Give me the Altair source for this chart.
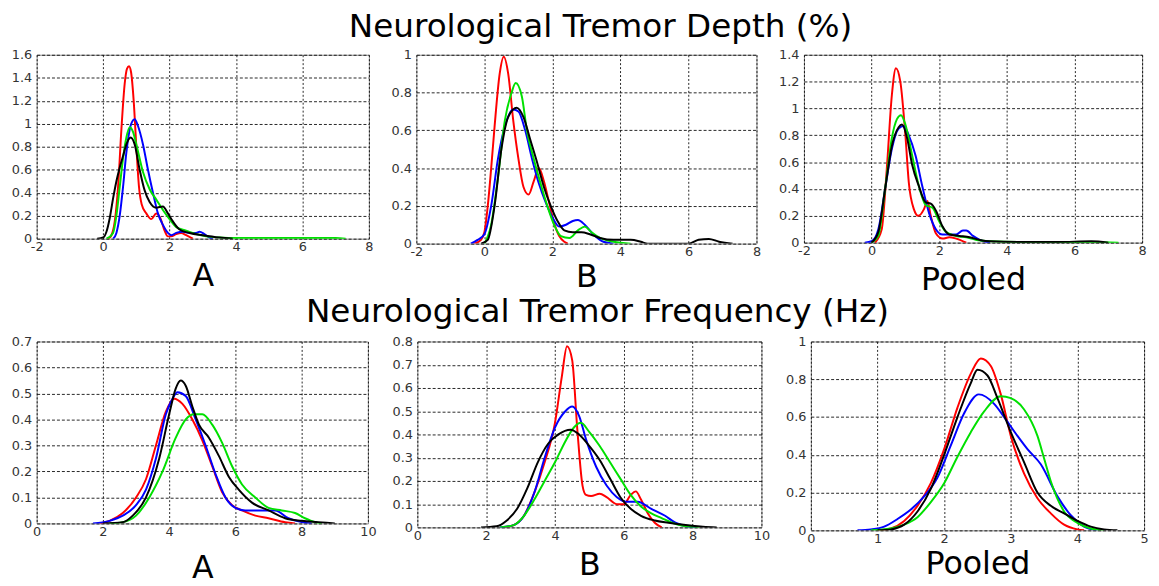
import altair as alt
import pandas as pd

FONT = "DejaVu Sans"

# ---------------- Tremor depth, group A ----------------
dA_red_x = [0.15, 0.25, 0.35, 0.45, 0.55, 0.65, 0.72, 0.78, 0.84, 0.92, 1.0, 1.08, 1.16, 1.3, 1.45, 1.6, 1.72, 1.85, 1.95, 2.05, 2.2, 2.35, 2.5, 2.7]
dA_red_y = [0.0, 0.03, 0.15, 0.45, 0.95, 1.35, 1.48, 1.5, 1.45, 1.2, 0.8, 0.45, 0.3, 0.22, 0.17, 0.22, 0.18, 0.07, 0.02, 0.02, 0.04, 0.05, 0.03, 0.0]
dA_blue_x = [0.3, 0.4, 0.5, 0.6, 0.7, 0.8, 0.9, 0.95, 1.05, 1.2, 1.35, 1.5, 1.65, 1.8, 1.95, 2.05, 2.2, 2.4, 2.6, 2.8, 2.9, 3.05, 3.2, 3.3]
dA_blue_y = [0.0, 0.05, 0.2, 0.45, 0.75, 0.95, 1.03, 1.04, 0.98, 0.82, 0.6, 0.4, 0.22, 0.12, 0.05, 0.03, 0.05, 0.06, 0.05, 0.05, 0.06, 0.04, 0.01, 0.0]
dA_green_x = [0.1, 0.3, 0.4, 0.5, 0.6, 0.7, 0.8, 0.9, 1.0, 1.2, 1.4, 1.6, 1.8, 2.0, 2.2, 2.5, 2.8, 3.1, 3.5, 4.0, 5.0, 6.0, 7.0, 7.3]
dA_green_y = [0.0, 0.05, 0.2, 0.45, 0.7, 0.88, 0.97, 0.93, 0.82, 0.58, 0.43, 0.34, 0.25, 0.17, 0.1, 0.07, 0.04, 0.02, 0.01, 0.005, 0.005, 0.005, 0.005, 0.0]
dA_black_x = [-0.18, 0.0, 0.1, 0.2, 0.3, 0.4, 0.5, 0.6, 0.7, 0.83, 0.95, 1.1, 1.25, 1.4, 1.6, 1.8, 1.95, 2.1, 2.3, 2.6, 3.0, 3.5, 3.9]
dA_black_y = [0.0, 0.01, 0.06, 0.18, 0.35, 0.5, 0.62, 0.72, 0.82, 0.88, 0.82, 0.6, 0.42, 0.32, 0.27, 0.28, 0.22, 0.15, 0.08, 0.05, 0.03, 0.01, 0.0]

# ---------------- Tremor depth, group B ----------------
dB_red_x = [-0.3, -0.1, 0.0, 0.1, 0.2, 0.3, 0.45, 0.57, 0.7, 0.85, 1.0, 1.15, 1.3, 1.45, 1.6, 1.75, 1.9, 2.05, 2.2, 2.35, 2.45]
dB_red_y = [0.0, 0.02, 0.06, 0.2, 0.4, 0.62, 0.9, 0.99, 0.9, 0.65, 0.45, 0.3, 0.26, 0.33, 0.4, 0.33, 0.22, 0.11, 0.04, 0.01, 0.0]
dB_blue_x = [-0.4, -0.2, 0.0, 0.2, 0.4, 0.6, 0.85, 1.0, 1.2, 1.4, 1.6, 1.8, 2.0, 2.2, 2.4, 2.6, 2.75, 2.95, 3.2, 3.5, 3.8]
dB_blue_y = [0.0, 0.02, 0.05, 0.2, 0.45, 0.62, 0.71, 0.7, 0.6, 0.45, 0.32, 0.22, 0.14, 0.09, 0.1, 0.12, 0.125, 0.1, 0.05, 0.01, 0.0]
dB_green_x = [0.0, 0.2, 0.4, 0.6, 0.8, 0.92, 1.1, 1.25, 1.45, 1.65, 1.85, 2.05, 2.25, 2.5, 2.75, 2.95, 3.15, 3.4, 3.8, 4.3]
dB_green_y = [0.0, 0.1, 0.35, 0.65, 0.8, 0.85, 0.78, 0.6, 0.45, 0.32, 0.2, 0.1, 0.04, 0.03, 0.07, 0.09, 0.06, 0.03, 0.01, 0.0]
dB_black_x = [-0.1, 0.1, 0.3, 0.5, 0.7, 0.95, 1.15, 1.35, 1.55, 1.75, 1.95, 2.15, 2.35, 2.6, 2.85, 3.1, 3.4, 3.8, 4.3, 4.6, 4.8, 5.5, 6.0, 6.3, 6.6, 6.9, 7.3]
dB_black_y = [0.0, 0.02, 0.2, 0.5, 0.67, 0.72, 0.67, 0.55, 0.43, 0.3, 0.2, 0.12, 0.07, 0.06, 0.06, 0.05, 0.03, 0.02, 0.02, 0.01, 0.0, 0.0, 0.0, 0.02, 0.025, 0.01, 0.0]

# ---------------- Tremor depth, pooled ----------------
dP_red_x = [0.1, 0.3, 0.45, 0.6, 0.72, 0.85, 1.0, 1.1, 1.25, 1.38, 1.55, 1.65, 1.75, 1.9, 2.1, 2.3, 2.5, 2.8]
dP_red_y = [0.0, 0.1, 0.55, 1.1, 1.3, 1.2, 0.8, 0.45, 0.25, 0.2, 0.25, 0.31, 0.2, 0.07, 0.03, 0.04, 0.03, 0.0]
dP_blue_x = [-0.2, 0.0, 0.2, 0.4, 0.6, 0.8, 0.95, 1.1, 1.3, 1.5, 1.7, 1.9, 2.1, 2.3, 2.5, 2.7, 2.8, 3.0, 3.2, 3.5]
dP_blue_y = [0.0, 0.01, 0.1, 0.4, 0.7, 0.85, 0.87, 0.8, 0.65, 0.42, 0.22, 0.1, 0.06, 0.06, 0.06, 0.09, 0.09, 0.05, 0.02, 0.0]
dP_green_x = [0.0, 0.2, 0.4, 0.6, 0.75, 0.87, 1.0, 1.2, 1.4, 1.6, 1.8, 2.0, 2.2, 2.5, 2.8, 3.1, 3.5, 4.5, 5.5, 6.5, 7.3]
dP_green_y = [0.0, 0.05, 0.4, 0.78, 0.92, 0.95, 0.88, 0.65, 0.42, 0.28, 0.26, 0.16, 0.08, 0.05, 0.04, 0.02, 0.01, 0.005, 0.005, 0.005, 0.0]
dP_black_x = [0.0, 0.2, 0.4, 0.6, 0.8, 0.9, 1.05, 1.2, 1.4, 1.6, 1.75, 1.9, 2.1, 2.3, 2.6, 2.9, 3.2, 3.5, 4.5, 5.5, 6.5, 7.0]
dP_black_y = [0.0, 0.08, 0.4, 0.72, 0.86, 0.88, 0.78, 0.58, 0.42, 0.3, 0.29, 0.24, 0.12, 0.06, 0.05, 0.04, 0.02, 0.01, 0.005, 0.005, 0.01, 0.0]

# ---------------- Tremor frequency, group A ----------------
fA_red_x = [1.9, 2.2, 2.6, 3.0, 3.3, 3.6, 3.9, 4.15, 4.4, 4.7, 5.0, 5.3, 5.6, 5.9, 6.2, 6.6, 7.0, 7.5, 7.8]
fA_red_y = [0.0, 0.01, 0.04, 0.1, 0.17, 0.3, 0.43, 0.48, 0.46, 0.4, 0.32, 0.22, 0.12, 0.07, 0.05, 0.03, 0.02, 0.005, 0.0]
fA_blue_x = [1.7, 2.2, 2.6, 3.0, 3.3, 3.6, 3.9, 4.1, 4.25, 4.5, 4.8, 5.1, 5.4, 5.7, 6.0, 6.3, 6.8, 7.2, 7.6, 8.0, 8.3]
fA_blue_y = [0.0, 0.01, 0.03, 0.07, 0.13, 0.25, 0.42, 0.48, 0.505, 0.49, 0.4, 0.3, 0.19, 0.1, 0.06, 0.05, 0.05, 0.05, 0.02, 0.005, 0.0]
fA_green_x = [2.2, 2.6, 3.0, 3.4, 3.8, 4.2, 4.5, 4.75, 5.0, 5.3, 5.6, 5.9, 6.2, 6.6, 7.0, 7.4, 7.8, 8.1, 8.4, 8.6]
fA_green_y = [0.0, 0.005, 0.03, 0.1, 0.2, 0.33, 0.4, 0.42, 0.42, 0.38, 0.31, 0.22, 0.15, 0.1, 0.06, 0.05, 0.04, 0.02, 0.005, 0.0]
fA_black_x = [2.0, 2.6, 2.9, 3.3, 3.7, 4.0, 4.2, 4.35, 4.5, 4.7, 4.9, 5.2, 5.5, 5.8, 6.1, 6.5, 7.0, 7.5, 8.0, 8.5, 9.0]
fA_black_y = [0.0, 0.005, 0.03, 0.1, 0.25, 0.42, 0.52, 0.55, 0.53, 0.45, 0.38, 0.33, 0.26, 0.18, 0.13, 0.08, 0.05, 0.02, 0.01, 0.005, 0.0]

# ---------------- Tremor frequency, group B ----------------
fB_red_x = [2.5, 2.8, 3.1, 3.4, 3.7, 4.0, 4.2, 4.35, 4.5, 4.65, 4.8, 4.9, 5.05, 5.3, 5.5, 5.8, 6.0, 6.2, 6.35, 6.5, 6.7, 6.9, 7.1]
fB_red_y = [0.0, 0.01, 0.05, 0.15, 0.28, 0.45, 0.65, 0.78, 0.72, 0.42, 0.18, 0.14, 0.135, 0.145, 0.13, 0.1, 0.1, 0.14, 0.155, 0.12, 0.06, 0.02, 0.0]
fB_blue_x = [2.4, 2.8, 3.1, 3.4, 3.7, 4.0, 4.3, 4.5, 4.7, 4.9, 5.2, 5.5, 5.8, 6.1, 6.4, 6.8, 7.2, 7.5, 7.8, 8.1]
fB_blue_y = [0.0, 0.01, 0.05, 0.15, 0.3, 0.43, 0.5, 0.52, 0.48, 0.38, 0.26, 0.18, 0.13, 0.11, 0.11, 0.08, 0.05, 0.02, 0.005, 0.0]
fB_green_x = [2.4, 2.8, 3.1, 3.4, 3.7, 4.0, 4.3, 4.55, 4.75, 5.0, 5.3, 5.6, 5.9, 6.2, 6.5, 6.8, 7.1, 7.4, 7.8, 8.2]
fB_green_y = [0.0, 0.01, 0.05, 0.12, 0.2, 0.28, 0.37, 0.43, 0.45, 0.41, 0.35, 0.28, 0.21, 0.14, 0.09, 0.06, 0.04, 0.02, 0.005, 0.0]
fB_black_x = [1.85, 2.3, 2.6, 2.9, 3.2, 3.5, 3.8, 4.1, 4.45, 4.7, 5.0, 5.3, 5.6, 5.9, 6.2, 6.5, 6.9, 7.3, 7.8, 8.3, 8.7]
fB_black_y = [0.0, 0.005, 0.03, 0.08, 0.17, 0.28, 0.36, 0.4, 0.42, 0.4, 0.35, 0.29, 0.21, 0.13, 0.08, 0.05, 0.03, 0.02, 0.01, 0.003, 0.0]

# ---------------- Tremor frequency, pooled ----------------
fP_red_x = [1.0, 1.2, 1.4, 1.6, 1.8, 2.0, 2.2, 2.4, 2.55, 2.7, 2.85, 3.0, 3.2, 3.4, 3.6, 3.8, 4.0, 4.1]
fP_red_y = [0.0, 0.01, 0.05, 0.13, 0.25, 0.43, 0.65, 0.83, 0.91, 0.87, 0.72, 0.5, 0.3, 0.17, 0.09, 0.03, 0.005, 0.0]
fP_blue_x = [0.7, 0.9, 1.1, 1.3, 1.5, 1.7, 1.9, 2.1, 2.3, 2.52, 2.75, 2.9, 3.1, 3.25, 3.45, 3.7, 3.9, 4.1, 4.3]
fP_blue_y = [0.0, 0.005, 0.02, 0.06, 0.11, 0.18, 0.28, 0.45, 0.62, 0.72, 0.67, 0.6, 0.5, 0.43, 0.35, 0.18, 0.08, 0.02, 0.0]
fP_green_x = [0.9, 1.2, 1.4, 1.6, 1.8, 2.0, 2.2, 2.4, 2.6, 2.85, 3.0, 3.2, 3.4, 3.5, 3.6, 3.8, 4.0, 4.2, 4.4]
fP_green_y = [0.0, 0.01, 0.03, 0.07, 0.15, 0.25, 0.39, 0.52, 0.63, 0.71, 0.7, 0.64, 0.5, 0.38, 0.26, 0.1, 0.04, 0.01, 0.0]
fP_black_x = [1.0, 1.2, 1.4, 1.6, 1.8, 2.0, 2.2, 2.4, 2.5, 2.65, 2.8, 3.0, 3.2, 3.4, 3.6, 3.8, 4.0, 4.2, 4.4, 4.6]
fP_black_y = [0.0, 0.005, 0.03, 0.1, 0.22, 0.4, 0.6, 0.78, 0.85, 0.82, 0.7, 0.52, 0.36, 0.2, 0.13, 0.09, 0.05, 0.02, 0.005, 0.0]

# ---------------- tick labels / text ----------------
depth_x_ticks = [-2, 0, 2, 4, 6, 8]
freq_x_ticks = [0, 2, 4, 6, 8, 10]
pooled_freq_x_ticks = [0, 1, 2, 3, 4, 5]
yt_16 = [0, 0.2, 0.4, 0.6, 0.8, 1, 1.2, 1.4, 1.6]
yt_10 = [0, 0.2, 0.4, 0.6, 0.8, 1]
yt_14 = [0, 0.2, 0.4, 0.6, 0.8, 1, 1.2, 1.4]
yt_07 = [0, 0.1, 0.2, 0.3, 0.4, 0.5, 0.6, 0.7]
yt_08 = [0, 0.1, 0.2, 0.3, 0.4, 0.5, 0.6, 0.7, 0.8]
panel_labels = ["A", "B", "Pooled"]
row_titles = ["Neurological Tremor Depth (%)", "Neurological Tremor Frequency (Hz)"]

COLORS = {"red": "#ff0000", "blue": "#0000ff", "green": "#00e000", "black": "#000000"}
LABEL_EXPR = "datum.value < 0 ? '-' + format(-datum.value, '~g') : format(datum.value, '~g')"


def panel(curves, xdom, xticks, ydom, yticks, w, h, sub, tpad):
    xenc = alt.X("x:Q", scale=alt.Scale(domain=xdom, nice=False, zero=False),
                 axis=alt.Axis(values=xticks, title=sub, labelExpr=LABEL_EXPR, gridDash=[2, 2],
                               labelPadding=2, titlePadding=tpad, labelFlush=False, labelOverlap=False))
    yenc = alt.Y("y:Q", scale=alt.Scale(domain=ydom, nice=False, zero=False),
                 axis=alt.Axis(values=yticks, title=None, labelExpr=LABEL_EXPR, gridDash=[3, 2],
                               labelPadding=5, labelOverlap=False))
    layers = []
    for name, xs, ys in curves:
        df = pd.DataFrame({"x": xs, "y": ys, "i": list(range(len(xs)))})
        layers.append(
            alt.Chart(df).mark_line(color=COLORS[name], strokeWidth=2, interpolate="monotone", clip=True)
            .encode(x=xenc, y=yenc, order="i:Q")
        )
    return alt.layer(*layers).properties(width=w, height=h)


p1 = panel([("red", dA_red_x, dA_red_y), ("blue", dA_blue_x, dA_blue_y),
            ("green", dA_green_x, dA_green_y), ("black", dA_black_x, dA_black_y)],
           [-2, 8], depth_x_ticks, [0, 1.6], yt_16, 336, 186, panel_labels[0], 7)
p2 = panel([("red", dB_red_x, dB_red_y), ("blue", dB_blue_x, dB_blue_y),
            ("green", dB_green_x, dB_green_y), ("black", dB_black_x, dB_black_y)],
           [-2, 8], depth_x_ticks, [0, 1], yt_10, 344, 191, panel_labels[1], 3)
p3 = panel([("red", dP_red_x, dP_red_y), ("blue", dP_blue_x, dP_blue_y),
            ("green", dP_green_x, dP_green_y), ("black", dP_black_x, dP_black_y)],
           [-2, 8], depth_x_ticks, [0, 1.4], yt_14, 342, 190, panel_labels[2], 7)
p4 = panel([("red", fA_red_x, fA_red_y), ("blue", fA_blue_x, fA_blue_y),
            ("green", fA_green_x, fA_green_y), ("black", fA_black_x, fA_black_y)],
           [0, 10], freq_x_ticks, [0, 0.7], yt_07, 335, 184, panel_labels[0], 15)
p5 = panel([("red", fB_red_x, fB_red_y), ("blue", fB_blue_x, fB_blue_y),
            ("green", fB_green_x, fB_green_y), ("black", fB_black_x, fB_black_y)],
           [0, 10], freq_x_ticks, [0, 0.8], yt_08, 348, 188, panel_labels[1], 8)
p6 = panel([("red", fP_red_x, fP_red_y), ("blue", fP_blue_x, fP_blue_y),
            ("green", fP_green_x, fP_green_y), ("black", fP_black_x, fP_black_y)],
           [0, 5], pooled_freq_x_ticks, [0, 1], yt_10, 337, 191, panel_labels[2], 4)

row1 = alt.hconcat(p1, p2, p3, spacing=16,
                   title=alt.TitleParams(row_titles[0], offset=4, dx=22))
row2 = alt.hconcat(p4, p5, p6, spacing=14,
                   title=alt.TitleParams(row_titles[1], offset=6, dx=18))

chart = (
    alt.vconcat(row1, row2, spacing=0)
    .properties(padding={"left": 2, "top": 0, "right": 2, "bottom": 0})
    .configure_view(stroke="#8a8a8a", strokeWidth=1)
    .configure_axis(
        labelFont=FONT, labelFontSize=13, labelColor="#333333",
        titleFont=FONT, titleFontSize=32, titleFontWeight="normal", titleColor="#000000",
        domain=False, ticks=False,
        grid=True, gridColor="#000000", gridOpacity=0.85, gridWidth=1,
    )
    .configure_title(font=FONT, fontSize=33, fontWeight="normal", color="#000000", anchor="middle")
)

chart.save("out.html", embed_options={"renderer": "svg", "actions": False})
